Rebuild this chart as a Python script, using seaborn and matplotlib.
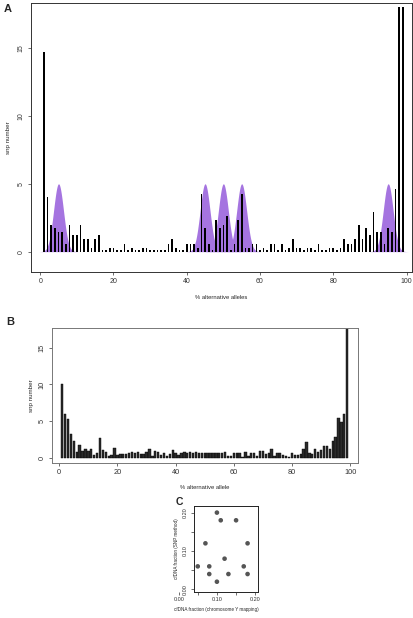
import numpy as np
import pandas as pd
import seaborn as sns
import matplotlib
matplotlib.use("Agg")
import matplotlib.pyplot as plt

# Panel A: snp counts per % alternative allele (1..99)
pct_a = list(range(1, 100))
snp_a = [14.7, 4.0, 2.0, 1.75, 1.47, 1.47, 0.6, 2.0, 1.2, 1.2,
         2.0, 0.9, 0.9, 0.3, 0.9, 1.2, 0.1, 0.1, 0.3, 0.3,
         0.1, 0.1, 0.6, 0.1, 0.3, 0.1, 0.1, 0.3, 0.3, 0.1,
         0.1, 0.1, 0.1, 0.1, 0.6, 0.9, 0.3, 0.1, 0.1, 0.6,
         0.6, 0.6, 0.3, 4.28, 1.75, 0.6, 0.1, 2.3, 1.75, 2.0,
         2.6, 0.1, 0.6, 2.3, 4.28, 0.3, 0.3, 0.6, 0.6, 0.1,
         0.3, 0.1, 0.6, 0.6, 0.1, 0.6, 0.1, 0.3, 0.9, 0.3,
         0.3, 0.1, 0.3, 0.3, 0.1, 0.6, 0.1, 0.1, 0.3, 0.3,
         0.1, 0.3, 0.9, 0.6, 0.6, 0.9, 2.0, 0.9, 1.75, 1.2,
         2.9, 1.47, 1.47, 0.6, 1.75, 1.47, 4.6, 18.0, 18.0]
# expected peaks (purple)
peak_centers = [5, 45, 50, 55, 95]
peak_height = 5.0
peak_sd = 1.35

# Panel B
pct_b = list(range(1, 100))
snp_b = [10.1, 6.0, 5.3, 3.3, 2.35, 0.77, 1.7, 0.95, 1.2, 0.95,
         1.2, 0.4, 0.6, 2.7, 1.1, 0.77, 0.2, 0.4, 1.4, 0.45,
         0.5, 0.5, 0.5, 0.63, 0.77, 0.63, 0.77, 0.5, 0.5, 0.77,
         1.27, 0.2, 1.0, 0.77, 0.4, 0.63, 0.2, 0.5, 1.1, 0.63,
         0.4, 0.63, 0.77, 0.63, 0.77, 0.63, 0.86, 0.63, 0.63, 0.63,
         0.63, 0.63, 0.63, 0.7, 0.63, 0.63, 0.86, 0.27, 0.27, 0.7,
         0.7, 0.63, 0.1, 0.86, 0.27, 0.7, 0.7, 0.27, 1.0, 1.0,
         0.5, 0.63, 1.2, 0.27, 0.6, 0.6, 0.45, 0.27, 0.1, 0.7,
         0.45, 0.45, 0.55, 1.2, 2.1, 0.63, 0.5, 1.2, 0.77, 1.1,
         1.55, 1.6, 1.2, 2.3, 2.8, 5.4, 4.85, 5.95, 18.0]

# Panel C
y_mapping = [0.10, 0.11, 0.15, 0.07, 0.18, 0.12, 0.05, 0.08, 0.17, 0.08, 0.13, 0.18, 0.10]
snp_method = [0.20, 0.18, 0.18, 0.12, 0.12, 0.08, 0.06, 0.06, 0.06, 0.04, 0.04, 0.04, 0.02]

sns.set_theme(style="white")
plt.rcParams['font.family'] = ['Liberation Sans', 'DejaVu Sans']

W, H = 414, 618
fig = plt.figure(figsize=(W / 100, H / 100), dpi=100)


def px_axes(x0, y0, x1, y1):
    return fig.add_axes([x0 / W, 1 - y1 / H, (x1 - x0) / W, (y1 - y0) / H])


def style(ax, fs=5, frame='#333333'):
    for s in ax.spines.values():
        s.set_visible(True)
        s.set_color(frame)
        s.set_linewidth(0.7)
    ax.tick_params(direction='out', length=2.5, width=0.5, colors='#333333',
                   labelsize=fs, pad=2, left=True, bottom=True)
    for lab in ax.get_yticklabels():
        lab.set_rotation(90)
        lab.set_va('center')


# ---- A ----
axA = px_axes(30.7, 3.3, 412, 272)
xs = np.linspace(-2, 101, 1500)
for c in peak_centers:
    axA.fill_between(xs, 0, peak_height * np.exp(-(xs - c) ** 2 / (2 * peak_sd ** 2)),
                     where=np.abs(xs - c) < 4 * peak_sd, color='#a574e0', lw=0)
dfa = pd.DataFrame({'pct': pct_a, 'snp': snp_a})
sns.barplot(data=dfa, x='pct', y='snp', native_scale=True, width=0.45,
            color='black', linewidth=0, ax=axA, zorder=3)
axA.set_xlim(-2.6, 101.5)
axA.set_ylim(-1.5, 18.3)
axA.set_xticks([0, 20, 40, 60, 80, 100])
axA.set_yticks([0, 5, 10, 15])
axA.set_xlabel('% alternative alleles', fontsize=4.2, labelpad=7)
axA.set_ylabel('snp number', fontsize=4.5, labelpad=5)
style(axA)
fig.text(4 / W, 1 - 9 / H, 'A', fontsize=8, fontweight='bold', va='center')

# ---- B ----
axB = px_axes(51.7, 328, 358, 463)
dfb = pd.DataFrame({'pct': pct_b, 'snp': snp_b})
sns.barplot(data=dfb, x='pct', y='snp', native_scale=True, width=0.8,
            color='#2a2a2a', edgecolor='black', linewidth=0.3, ax=axB)
axB.set_xlim(-2.6, 102.7)
axB.set_ylim(-0.7, 17.7)
axB.set_xticks([0, 20, 40, 60, 80, 100])
axB.set_yticks([0, 5, 10, 15])
axB.set_xlabel('% alternative allele', fontsize=4.2, labelpad=6)
axB.set_ylabel('snp number', fontsize=4.5, labelpad=3)
style(axB, fs=5.3, frame='#777777')
fig.text(6 / W, 1 - 322 / H, 'B', fontsize=8, fontweight='bold', va='center')

# ---- C ----
axC = px_axes(194.3, 505.7, 258.3, 591.7)
dfc = pd.DataFrame({'ymap': y_mapping, 'snp': snp_method})
sns.scatterplot(data=dfc, x='ymap', y='snp', color='#555555', s=11,
                edgecolor='none', ax=axC)
axC.set_xlim(0.041, 0.208)
axC.set_ylim(-0.006, 0.218)
axC.set_yticks([0.00, 0.05, 0.10, 0.15, 0.20])
axC.set_yticklabels(['0.00', '', '0.10', '', '0.20'])
axC.set_xticks([])
axC.set_xlabel('')
axC.set_ylabel('cfDNA fraction (SNP method)', fontsize=3.3, labelpad=3)
style(axC, fs=4, frame='#222222')
axC.tick_params(bottom=False)

# detached x axis for C (ticks extend left of the box)
axCx = px_axes(178.7, 591.7, 255.0, 591.8)
axCx.set_xlim(0.0, 0.2)
axCx.set_xticks([0.00, 0.05, 0.10, 0.15, 0.20])
axCx.set_xticklabels(['0.00', '', '0.10', '', '0.20'])
axCx.set_yticks([])
axCx.patch.set_visible(False)
for s in axCx.spines.values():
    s.set_visible(False)
axCx.tick_params(direction='out', length=2, width=0.5, colors='#333333',
                 labelsize=4, pad=2, bottom=True)
axCx.set_xlabel('cfDNA fraction (chromosome Y mapping)', fontsize=3.3, labelpad=3)
fig.text(176 / W, 1 - 502 / H, 'C', fontsize=7.5, fontweight='bold', va='center')

fig.savefig('out.png', dpi=100)
